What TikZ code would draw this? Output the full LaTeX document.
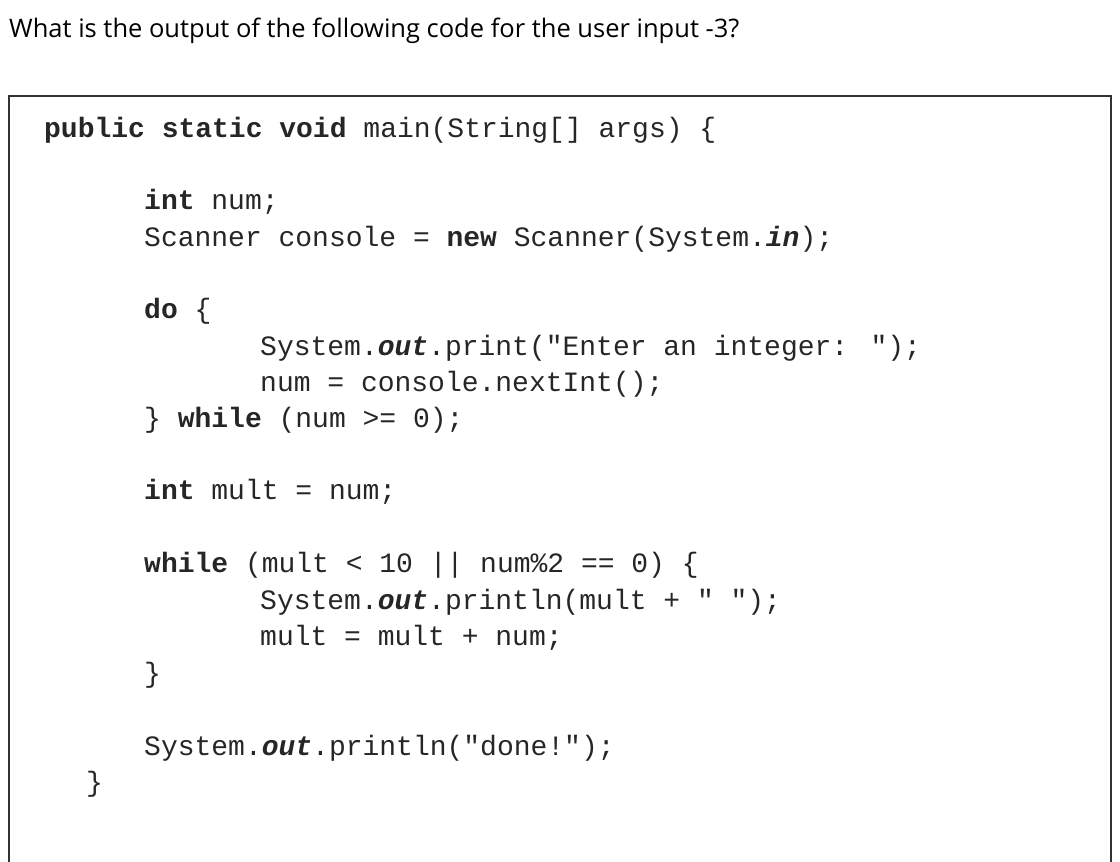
\documentclass[tikz,border=0pt]{standalone}
\usepackage{fontspec}
\setmainfont{Open Sans}
\newfontfamily\cf{Liberation Mono}
\begin{document}
\begin{tikzpicture}[x=1pt,y=-1pt,
  code/.style={anchor=base west,inner sep=0pt,font=\cf\fontsize{28}{30}\selectfont,text=black!85}]
\useasboundingbox (0,0) rectangle (1120,862);
\draw[line width=1.5pt,black!80] (9,870) -- (9,96) -- (1111,96) -- (1111,870);
\node[anchor=base west,inner sep=0pt,font=\fontsize{25.5}{28}\selectfont] (q) at (9,37) {What is the output of the following code for the user input -3?};
\node[code] (l1) at (44,137) {\textbf{public static void} main(String[] args) \{};
\node[code] (l2) at (144,209) {\textbf{int} num;};
\node[code] (l3) at (144,246) {Scanner console = \textbf{new} Scanner(System.\textbf{\textit{in}});};
\node[code] (l4) at (144,318) {\textbf{do} \{};
\node[code] (l5) at (260,355) {System.\textbf{\textit{out}}.print("Enter an integer: ");};
\node[code] (l6) at (260,391) {num = console.nextInt();};
\node[code] (l7) at (144,427) {\} \textbf{while} (num >= 0);};
\node[code] (l8) at (144,499) {\textbf{int} mult = num;};
\node[code] (l9) at (144,572) {\textbf{while} (mult < 10 || num\%2 == 0) \{};
\node[code] (l10) at (260,609) {System.\textbf{\textit{out}}.println(mult + " ");};
\node[code] (l11) at (260,645) {mult = mult + num;};
\node[code] (l12) at (144,682) {\}};
\node[code] (l13) at (144,755) {System.\textbf{\textit{out}}.println("done!");};
\node[code] (l14) at (86,791) {\}};
\end{tikzpicture}
\end{document}
